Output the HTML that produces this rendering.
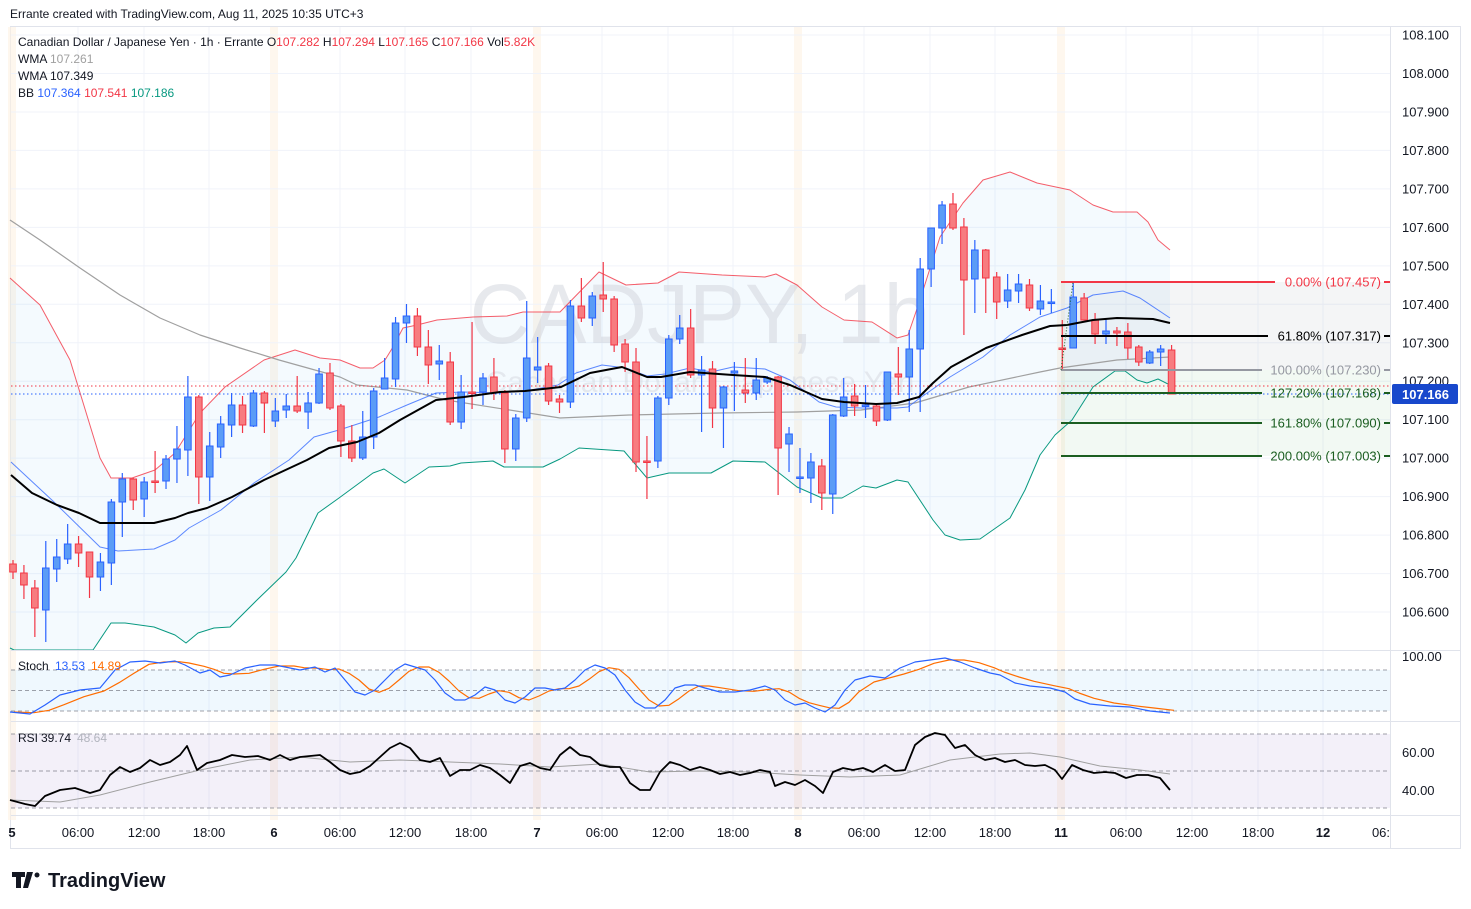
<!DOCTYPE html><html><head><meta charset="utf-8"><style>
body{margin:0;background:#fff;width:1471px;height:909px;overflow:hidden;font-family:"Liberation Sans",sans-serif}
svg{position:absolute;left:0;top:0}
</style></head><body>
<svg id="s" width="1471" height="909" xmlns="http://www.w3.org/2000/svg" font-family="Liberation Sans, sans-serif" xml:space="preserve"></svg>
<script>
const S=document.getElementById('s');let h='';
const poly=(pts,c,w,extra='')=>`<polyline points="${pts.map(p=>p.join(',')).join(' ')}" fill="none" stroke="${c}" stroke-width="${w}" stroke-linejoin="round" ${extra}/>`;
const T=(x,y,t,c,fs=12,a='start',extra='')=>`<text x="${x}" y="${y}" fill="${c}" font-size="${fs}" text-anchor="${a}" ${extra}>${t}</text>`;
h+=`<rect x="10.5" y="26.5" width="1450" height="822" fill="#fff" stroke="#e0e3eb"/>`;
[12,274,537,798,1061].forEach(x=>{h+=`<rect x="${x-4}" y="27" width="8" height="793" fill="#fdf1e3" opacity="0.6"/>`});
[78,144,209,340,405,471,602,668,733,864,930,995,1126,1192,1258,1323].forEach(x=>{h+=`<line x1="${x}" y1="27" x2="${x}" y2="820" stroke="#f0f3fa"/>`});
for(let i=0;i<16;i++){let y=35+i*38.47;h+=`<line x1="11" y1="${y}" x2="1390" y2="${y}" stroke="#f0f3fa"/>`}
const up=[[10,278],[40,305],[70,360],[100,458],[111,478],[132,478],[155,470],[175,453],[200,413],[225,387],[264,360],[295,350],[320,358],[340,360],[360,368],[373,368],[385,360],[393,347],[403,328],[417,325],[437,320],[473,317],[507,316],[523,312],[560,312],[599,272],[626,285],[658,283],[679,272],[722,275],[765,277],[776,274],[797,285],[822,307],[844,320],[872,322],[897,338],[908,335],[919,303],[940,237],[963,203],[983,180],[1010,172],[1037,183],[1070,190],[1093,205],[1113,212],[1137,212],[1148,222],[1158,240],[1170,250]];
const lo=[[10,648],[14,650],[93,650],[111,623],[125,623],[154,627],[175,635],[186,643],[198,633],[214,628],[230,627],[257,600],[286,572],[296,558],[318,513],[339,498],[373,473],[384,469],[405,483],[429,467],[450,466],[461,463],[493,461],[504,467],[543,467],[560,459],[579,448],[624,451],[647,478],[669,473],[711,473],[733,461],[765,462],[797,487],[822,498],[842,498],[863,486],[876,488],[897,480],[908,482],[933,520],[945,535],[960,540],[980,539],[1000,525],[1010,518],[1025,490],[1040,455],[1055,435],[1072,420],[1093,387],[1115,371],[1125,371],[1137,380],[1147,383],[1158,379],[1170,385]];
h+=`<polygon points="${up.concat(lo.slice().reverse()).map(p=>p.join(',')).join(' ')}" fill="#2196f3" fill-opacity="0.05"/>`;
h+=`<rect x="1061" y="282" width="329" height="88" fill="#787b86" fill-opacity="0.08"/>`;
h+=`<rect x="1061" y="370" width="329" height="86" fill="#4caf50" fill-opacity="0.07"/>`;
h+=T(700,343,'CADJPY, 1h','#d1d4dc',84,'middle','opacity="0.5"');
h+=T(700,392,'Canadian Dollar / Japanese Yen','#d1d4dc',30,'middle','opacity="0.45"');
const mid=[[11,462],[54,502],[100,547],[118,551],[154,549],[175,540],[189,528],[221,510],[254,483],[289,460],[314,437],[339,430],[379,417],[407,405],[436,393],[464,392],[500,393],[525,391],[558,385],[576,373],[602,365],[626,368],[647,376],[665,374],[690,368],[711,372],[733,367],[765,369],[790,380],[819,402],[836,407],[861,408],[897,408],[908,407],[920,398],[950,377],[983,357],[1010,335],[1040,317],[1067,308],[1093,295],[1123,291],[1140,298],[1170,318]];
const gray=[[10,220],[40,240],[80,268],[120,295],[160,318],[200,335],[240,348],[279,360],[340,377],[357,385],[407,390],[446,400],[560,418],[629,415],[719,413],[797,412],[861,410],[915,403],[969,387],[1040,372],[1060,368],[1117,360],[1170,357]];
const wma=[[11,475],[32,493],[57,505],[79,513],[100,523],[154,523],[175,518],[188,513],[207,508],[232,497],[264,480],[307,460],[329,448],[357,442],[379,433],[400,420],[436,400],[464,397],[500,392],[525,391],[561,387],[590,373],[622,367],[647,377],[661,377],[690,372],[733,375],[765,377],[790,385],[822,399],[844,402],[876,404],[897,403],[919,397],[933,383],[951,367],[986,348],[1022,335],[1050,326],[1067,325],[1093,320],[1117,318],[1153,319],[1170,323]];
h+=poly(up,'#f23645',1,'opacity="0.8"')+poly(lo,'#089981',1)+poly(gray,'#a0a0a0',1.2)+poly(mid,'#2962ff',1,'opacity="0.75"');
h+=`<line x1="11" y1="386" x2="1390" y2="386" stroke="#f23645" stroke-dasharray="1.5,2.5"/>`;
h+=`<line x1="11" y1="394" x2="1390" y2="394" stroke="#2962ff" stroke-dasharray="1.5,2.5"/>`;
const C=[[564,572,560,579],[573,585,565,599],[588,608,580,637],[610,568,541,642],[569,557,539,582],[559,544,524,564],[544,553,536,567],[552,577,552,598],[577,562,553,591],[563,502,499,585],[502,479,473,537],[479,500,478,510],[499,482,477,517],[481,482,451,493],[481,459,455,489],[459,449,426,483],[450,397,376,476],[397,477,395,504],[477,446,432,501],[447,424,416,458],[425,405,393,437],[405,425,396,433],[426,393,390,427],[393,403,391,433],[421,411,398,427],[410,406,394,418],[406,411,376,413],[412,403,392,429],[403,374,368,404],[373,408,363,410],[406,441,404,457],[441,458,425,462],[458,437,411,460],[437,391,388,449],[389,378,358,389],[379,323,317,387],[323,316,304,343],[316,347,308,356],[347,365,330,384],[364,361,345,380],[362,422,352,425],[422,392,375,429],[392,393,322,409],[392,378,373,405],[377,393,358,400],[393,449,390,463],[449,418,414,461],[418,358,301,422],[370,367,337,383],[366,401,363,405],[399,402,395,413],[402,306,300,408],[306,318,278,322],[318,296,292,326],[295,299,262,312],[299,345,296,352],[344,362,339,372],[362,462,348,472],[461,461,436,499],[461,398,396,468],[398,339,335,405],[339,328,315,344],[328,375,309,378],[375,370,356,432],[369,408,361,428],[408,387,386,448],[373,371,362,411],[390,393,358,403],[393,380,358,400],[382,378,376,384],[377,448,376,495],[444,434,427,472],[478,477,448,493],[478,462,453,503],[466,493,459,510],[494,415,414,514],[416,397,378,417],[396,406,384,416],[406,405,385,418],[406,421,405,426],[420,372,372,421],[374,377,347,395],[377,349,330,412],[349,269,258,412],[269,228,228,287],[228,205,201,244],[204,228,193,230],[227,280,218,335],[279,250,240,313],[250,278,249,313],[277,302,272,319],[301,290,274,308],[291,284,274,303],[285,308,279,311],[309,301,285,315],[302,302,289,313],[348,349,320,370],[348,297,282,348],[298,320,293,320],[320,334,313,344],[334,331,319,344],[331,333,327,346],[332,348,323,359],[347,362,345,366],[363,352,350,364],[352,349,345,366],[350,394,345,394]];
C.forEach((c,i)=>{const x=13+10.93*i;const[o,cl,hi,l]=c;const bull=cl<o||(cl===o&&i%2);const st=bull?'#2962ff':'#f23645',fi=bull?'#5b9cf6':'#f77c80';const t=Math.min(o,cl),b=Math.max(Math.max(o,cl),t+1.5);
h+=`<line x1="${x}" y1="${hi}" x2="${x}" y2="${l}" stroke="${st}" stroke-width="1.2"/><rect x="${x-3.3}" y="${t}" width="6.6" height="${b-t}" fill="${fi}" stroke="${st}" stroke-width="1"/>`});
h+=poly(wma,'#000',2);
const fib=[[282,'#f23645','0.00% (107.457)',1275],[336,'#000','61.80% (107.317)',1268],[370,'#9598a1','100.00% (107.230)',1262],[393,'#1b5e20','127.20% (107.168)',1262],[423,'#1b5e20','161.80% (107.090)',1262],[456,'#1b5e20','200.00% (107.003)',1262]];
fib.forEach(f=>{h+=`<line x1="1061" y1="${f[0]}" x2="${f[3]}" y2="${f[0]}" stroke="${f[1]}" stroke-width="2"/><line x1="1384" y1="${f[0]}" x2="1390" y2="${f[0]}" stroke="${f[1]}" stroke-width="2"/>`;h+=T(1381,f[0]+4.5,f[2],f[1],13,'end')});
h+=`<line x1="1061" y1="370" x2="1073" y2="282" stroke="#1b5e20" stroke-dasharray="1,2"/>`;
h+=`<line x1="1390.5" y1="27" x2="1390.5" y2="848" stroke="#e0e3eb"/>`;
['108.100','108.000','107.900','107.800','107.700','107.600','107.500','107.400','107.300','107.200','107.100','107.000','106.900','106.800','106.700','106.600'].forEach((t,i)=>{h+=T(1402,35+i*38.47+4.5,t,'#131722',13)});
h+=`<rect x="1392" y="384" width="66" height="20" rx="2" fill="#1848cc"/>`+T(1402,399,'107.166','#fff',13,'start','font-weight="bold"');
h+=`<line x1="11" y1="650.5" x2="1461" y2="650.5" stroke="#e0e3eb"/><line x1="11" y1="721.5" x2="1461" y2="721.5" stroke="#e0e3eb"/><line x1="11" y1="815.5" x2="1461" y2="815.5" stroke="#e0e3eb"/>`;
h+=`<rect x="11" y="670" width="1379" height="41" fill="#2196f3" fill-opacity="0.07"/>`;
[670,690.5,711].forEach(y=>{h+=`<line x1="11" y1="${y}" x2="1390" y2="${y}" stroke="#787b86" stroke-dasharray="4,3" opacity="0.7"/>`});
const sb=[[10,712],[30,714],[45,705],[60,695],[80,690],[100,688],[115,670],[130,662],[145,661],[160,663],[175,661],[185,665],[200,673],[210,670],[220,677],[230,675],[245,668],[260,665],[275,665],[290,668],[300,670],[315,667],[325,672],[335,668],[345,680],[355,692],[365,695],[375,690],[385,680],[395,670],[405,664],[415,667],[425,670],[435,680],[445,693],[455,700],[465,700],[475,695],[485,687],[495,690],[505,700],[515,703],[525,697],[535,688],[545,688],[555,690],[565,688],[575,680],[585,670],[595,665],[605,668],[615,675],[625,690],[635,702],[645,708],[655,708],[665,700],[675,688],[685,685],[695,685],[705,688],[720,692],[735,692],[750,690],[765,686],[775,690],[785,700],[795,705],[805,703],[815,708],[825,712],[835,705],[845,690],[855,680],[870,676],[885,678],[900,668],[915,662],[930,660],[945,658],[960,662],[975,668],[990,673],[1000,675],[1015,683],[1030,686],[1050,688],[1065,692],[1075,699],[1090,704],[1110,706],[1130,707],[1150,711],[1170,713]];
const so=sb.map((p,i)=>{const a=sb[Math.max(0,i-1)],b=sb[Math.max(0,i-2)];return [p[0]+4,((p[1]+a[1]+b[1])/3).toFixed(1)]});
h+=poly(so,'#ff6d00',1.2)+poly(sb,'#2962ff',1.2);
h+=T(18,670,'Stoch','#131722',12)+T(55,670,'13.53','#2962ff',12)+T(91,670,'14.89','#ff6d00',12);
h+=T(1402,661,'100.00','#131722',13);
h+=`<rect x="11" y="734" width="1379" height="74" fill="#7e57c2" fill-opacity="0.09"/>`;
[734,771,808].forEach(y=>{h+=`<line x1="11" y1="${y}" x2="1390" y2="${y}" stroke="#787b86" stroke-dasharray="4,3" opacity="0.7"/>`});
const rk=[[10,800],[25,804],[35,806],[45,796],[60,790],[75,788],[90,793],[100,790],[110,775],[120,767],[130,772],[140,768],[150,760],[160,765],[170,762],[180,755],[187,746],[197,770],[207,763],[220,760],[232,755],[245,757],[258,756],[270,760],[280,755],[290,760],[300,757],[320,755],[330,762],[340,770],[350,774],[360,772],[370,766],[380,757],[390,748],[400,743],[410,748],[420,760],[430,762],[440,758],[450,776],[460,770],[470,770],[480,765],[490,768],[500,775],[510,783],[520,766],[530,763],[540,768],[550,770],[560,755],[570,747],[580,755],[590,757],[600,765],[610,767],[620,767],[630,783],[640,790],[650,790],[660,772],[670,762],[680,765],[690,770],[700,767],[710,770],[720,774],[730,772],[740,775],[750,773],[760,770],[770,772],[775,786],[785,782],[795,785],[805,780],[815,786],[823,793],[833,772],[843,768],[853,770],[863,768],[873,772],[885,765],[895,771],[905,770],[915,745],[925,737],[935,733],[945,735],[955,748],[965,745],[975,755],[985,760],[995,758],[1005,762],[1015,760],[1025,765],[1035,766],[1045,765],[1055,770],[1062,779],[1072,765],[1083,770],[1094,773],[1105,772],[1115,773],[1126,778],[1137,775],[1148,775],[1160,778],[1170,790]];
const rg=[[10,800],[60,802],[100,795],[150,782],[200,770],[250,760],[300,757],[350,762],[400,760],[450,762],[500,764],[550,767],[600,764],[650,772],[700,771],[750,772],[800,775],[850,777],[900,775],[950,760],[1000,754],[1030,753],[1060,757],[1100,766],[1140,770],[1170,774]];
h+=poly(rg,'#a0a0a0',1)+poly(rk,'#000',1.8);
h+=T(18,742,'RSI','#131722',12)+T(41,742,'39.74','#131722',12)+T(77,742,'48.64','#b2b5be',12);
h+=T(1402,757,'60.00','#131722',13)+T(1402,795,'40.00','#131722',13);
[[12,'5'],[78,'06:00'],[144,'12:00'],[209,'18:00'],[274,'6'],[340,'06:00'],[405,'12:00'],[471,'18:00'],[537,'7'],[602,'06:00'],[668,'12:00'],[733,'18:00'],[798,'8'],[864,'06:00'],[930,'12:00'],[995,'18:00'],[1061,'11'],[1126,'06:00'],[1192,'12:00'],[1258,'18:00'],[1323,'12'],[1381,'06:']].forEach(t=>{h+=T(t[0],837,t[1],'#131722',13,'middle',(t[1].length<3?'font-weight="bold"':''))});
h+=T(10,18,'Errante created with TradingView.com, Aug 11, 2025 10:35 UTC+3','#131722',12);
h+=`<text x="18" y="46" font-size="12" fill="#131722">Canadian Dollar / Japanese Yen · 1h · Errante  O<tspan fill="#f23645">107.282</tspan>  H<tspan fill="#f23645">107.294</tspan>  L<tspan fill="#f23645">107.165</tspan>  C<tspan fill="#f23645">107.166</tspan>  Vol<tspan fill="#f23645">5.82K</tspan></text>`;
h+=`<text x="18" y="63" font-size="12" fill="#131722">WMA  <tspan fill="#a0a0a0">107.261</tspan></text>`;
h+=`<text x="18" y="80" font-size="12" fill="#131722">WMA  107.349</text>`;
h+=`<text x="18" y="97" font-size="12" fill="#131722">BB  <tspan fill="#2962ff">107.364</tspan>  <tspan fill="#f23645">107.541</tspan>  <tspan fill="#089981">107.186</tspan></text>`;
h+=`<path d="M12 872h13v5h-4v11h-5v-11h-4z M27 872h6l-5 16h-5z" fill="#131722"/><circle cx="37" cy="875" r="2.5" fill="#131722"/>`;
h+=T(48,887,'TradingView','#131722',20,'start','font-weight="bold"');
S.innerHTML=h;
</script></body></html>
